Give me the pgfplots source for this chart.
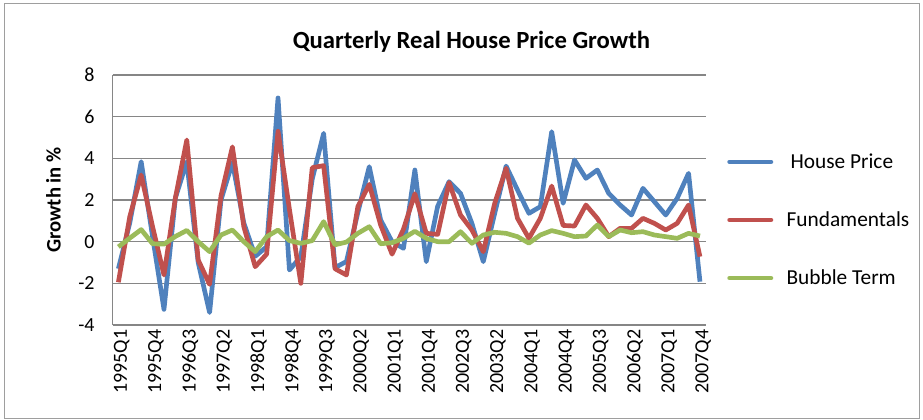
\documentclass[border=0pt]{standalone}
\usepackage{pgfplots}
\usepackage{pgfplotstable}
\pgfplotsset{compat=1.18}
\usepackage{fontspec}
\setmainfont{Carlito}
\definecolor{hpblue}{HTML}{4F81BD}
\definecolor{fured}{HTML}{C0504D}
\definecolor{bugreen}{HTML}{9BBB59}
\definecolor{gridgray}{HTML}{868686}
\pgfplotstableread{
i house fund bubble
0 -1.30 -1.95 -0.25
1 0.90 1.20 0.17
2 3.84 3.20 0.58
3 0.24 0.72 -0.10
4 -3.25 -1.60 -0.12
5 2.10 2.10 0.25
6 3.84 4.88 0.54
7 -1.00 -0.88 0.00
8 -3.40 -2.05 -0.48
9 2.00 2.20 0.32
10 3.80 4.55 0.56
11 0.90 0.72 0.00
12 -0.70 -1.20 -0.48
13 -0.25 -0.60 0.24
14 6.90 5.30 0.56
15 -1.36 1.55 0.05
16 -0.72 -2.00 -0.08
17 3.00 3.55 0.05
18 5.20 3.65 0.96
19 -1.25 -1.30 -0.15
20 -0.95 -1.60 -0.02
21 1.40 1.68 0.40
22 3.60 2.75 0.72
23 1.04 0.80 -0.10
24 0.00 -0.60 -0.05
25 -0.32 0.60 0.16
26 3.44 2.30 0.50
27 -0.96 0.40 0.16
28 1.70 0.35 0.00
29 2.88 2.84 0.00
30 2.32 1.28 0.48
31 0.88 0.56 -0.08
32 -0.96 -0.48 0.32
33 1.36 1.84 0.45
34 3.63 3.52 0.40
35 2.48 1.12 0.24
36 1.36 0.16 -0.07
37 1.68 1.12 0.32
38 5.28 2.67 0.53
39 1.84 0.78 0.40
40 3.92 0.75 0.24
41 3.04 1.76 0.27
42 3.44 1.12 0.80
43 2.32 0.24 0.24
44 1.76 0.64 0.56
45 1.28 0.64 0.43
46 2.56 1.12 0.48
47 1.92 0.88 0.32
48 1.28 0.56 0.24
49 2.08 0.88 0.16
50 3.28 1.76 0.40
51 -1.92 -0.72 0.27
}\datatable
\begin{document}
\begin{tikzpicture}
\useasboundingbox (0,0) rectangle (692.25pt,-315pt);
\draw[gridgray!80, line width=0.75pt] (3pt,-3pt) rectangle (689.25pt,-313.5pt);
\node[font=\fontsize{18.5}{22}\selectfont\bfseries] at (353.6pt,-31.5pt) {Quarterly Real House Price Growth};
\begin{axis}[
  at={(84.5pt,-243.75pt)}, anchor=south west,
  width=444.75pt, height=187.5pt, scale only axis,
  xmin=-0.5, xmax=51.5, ymin=-4, ymax=8,
  ytick={-4,-2,0,2,4,6,8},
  xtick={0,3,...,51},
  xticklabels={1995Q1,1995Q4,1996Q3,1997Q2,1998Q1,1998Q4,1999Q3,2000Q2,2001Q1,2001Q4,2002Q3,2003Q2,2004Q1,2004Q4,2005Q3,2006Q2,2007Q1,2007Q4},
  axis lines=left,
  axis line style={-, gridgray, line width=1pt},
  major tick length=0pt,
  ymajorgrids,
  grid style={gridgray, line width=1pt},
  /pgf/number format/assume math mode=true,
  tick label style={font=\fontsize{15}{18}\selectfont},
  yticklabel style={xshift=-10pt},
  xticklabel style={rotate=90, anchor=east, yshift=-2.5pt},
  ylabel={Growth in \%},
  ylabel style={at={(axis description cs:-0.1,0.5)}, anchor=center, font=\fontsize{15.5}{18}\selectfont\bfseries},
  legend style={at={(axis description cs:1,0.5)}, anchor=west, xshift=16pt, yshift=-15pt,
    draw=none, fill=none, font=\fontsize{16}{19}\selectfont, row sep=27pt, inner sep=0pt},
  legend cell align=left,
  legend image code/.code={\draw[#1, line cap=round] (0pt,0pt) -- (31pt,0pt); \path (39pt,0pt);},
  every axis plot/.append style={line width=3.5pt, line join=round, no markers},
]
\addplot[hpblue] table[x=i, y=house] {\datatable};
\addlegendentry{\hspace{3pt}House Price}
\addplot[fured] table[x=i, y=fund] {\datatable};
\addlegendentry{Fundamentals}
\addplot[bugreen] table[x=i, y=bubble] {\datatable};
\addlegendentry{Bubble Term}
\end{axis}
\end{tikzpicture}
\end{document}
